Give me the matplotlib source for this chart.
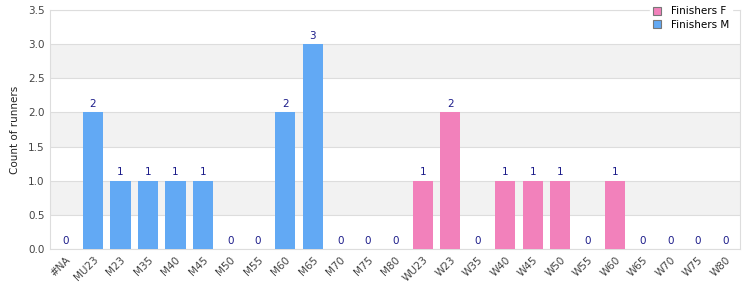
import matplotlib
matplotlib.use("Agg")
import matplotlib.pyplot as plt
from matplotlib.patches import Patch

categories = ["#NA", "MU23", "M23", "M35", "M40", "M45", "M50", "M55", "M60", "M65",
              "M70", "M75", "M80", "WU23", "W23", "W35", "W40", "W45", "W50", "W55",
              "W60", "W65", "W70", "W75", "W80"]
counts = [0, 2, 1, 1, 1, 1, 0, 0, 2, 3, 0, 0, 0,
          1, 2, 0, 1, 1, 1, 0, 1, 0, 0, 0, 0]
series = ["M"] * 13 + ["F"] * 12

blue = "#62a9f4"
pink = "#f281bb"
label_col = "#1c1c8a"
grid_col = "#dddddd"

fig = plt.figure(figsize=(7.5, 3), dpi=100)
ax = fig.add_axes([0.067, 0.17, 0.92, 0.797])

x = list(range(len(categories)))
colors = [blue if s == "M" else pink for s in series]
ax.bar(x, counts, width=0.74, color=colors, zorder=3)

for xi, c in zip(x, counts):
    ax.text(xi, c + 0.05, str(c), ha="center", va="bottom", fontsize=7.5,
            color=label_col, zorder=4)

ax.set_ylim(0, 3.5)
ax.set_xlim(-0.55, len(categories) - 0.45)

# alternating bands
for lo in [0.5, 1.5, 2.5]:
    ax.axhspan(lo, lo + 0.5, color="#f2f2f2", zorder=0, lw=0)
ax.set_yticks([0, 0.5, 1, 1.5, 2, 2.5, 3, 3.5])
ax.set_yticklabels(["%.1f" % v for v in ax.get_yticks()])
ax.yaxis.grid(True, color=grid_col, lw=0.8, zorder=1)

ax.set_xticks(x)
ax.set_xticklabels(categories, rotation=45, ha="right", rotation_mode="anchor")
ax.tick_params(axis="both", length=0, labelsize=7.5, labelcolor="#444444", pad=4)

for sp in ax.spines.values():
    sp.set_color(grid_col)
    sp.set_linewidth(0.8)

ax.set_ylabel("Count of runners", fontsize=7.5, color="#222222", labelpad=6)

handles = [Patch(facecolor=pink, edgecolor="#777777", lw=0.8, label="Finishers F"),
           Patch(facecolor=blue, edgecolor="#777777", lw=0.8, label="Finishers M")]
leg = ax.legend(handles=handles, loc="upper right", bbox_to_anchor=(0.995, 1.045),
                fontsize=7.5, frameon=True, handlelength=0.8, handleheight=0.8,
                borderpad=0.2, labelspacing=0.3, handletextpad=1.0)
leg.get_frame().set_edgecolor("white")
leg.get_frame().set_facecolor("white")
leg.get_frame().set_alpha(1)
leg.set_zorder(5)

fig.savefig("out.png", dpi=100)
